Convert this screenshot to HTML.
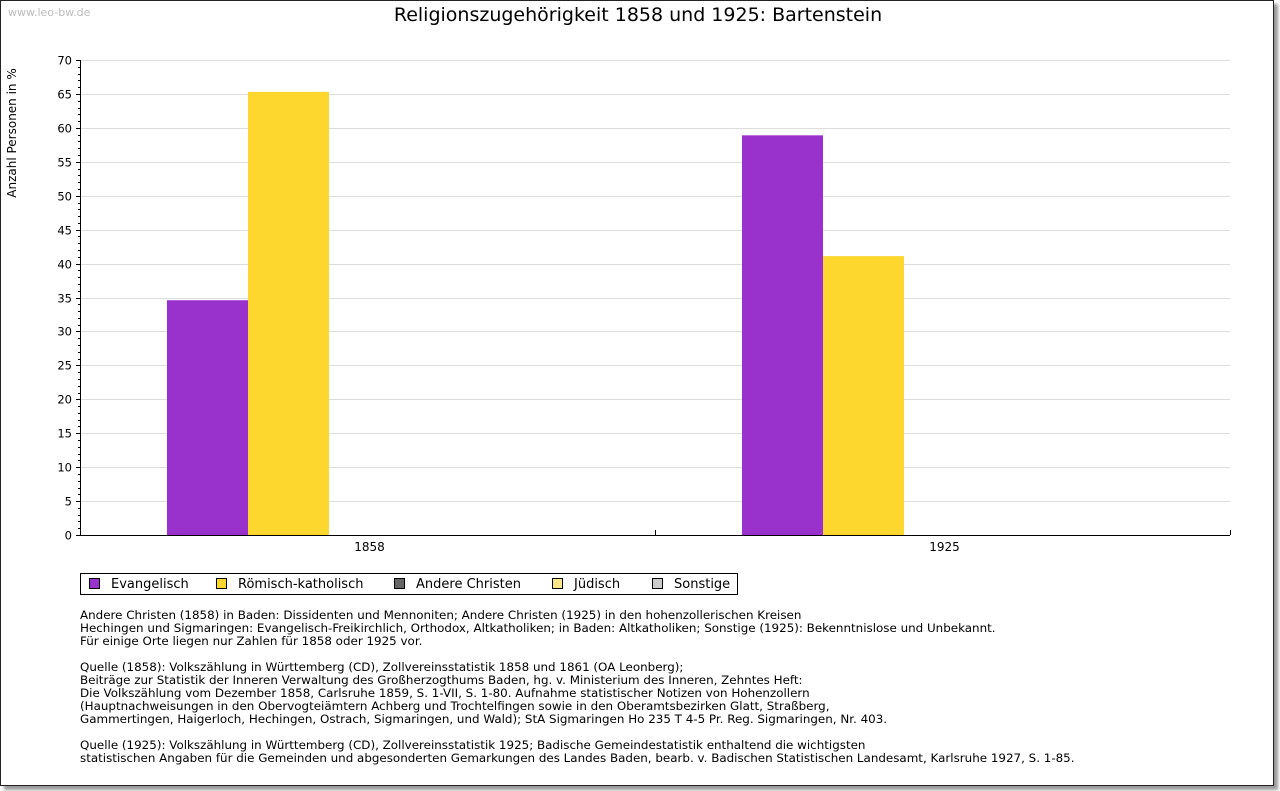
<!DOCTYPE html>
<html><head><meta charset="utf-8"><style>
body{margin:0;background:#fff;width:1280px;height:791px;overflow:hidden;font-family:"DejaVu Sans","Liberation Sans",sans-serif;}
#frame{position:absolute;left:0;top:0;width:1272px;height:784px;border:1px solid #222;box-shadow:4px 4px 3px #999;background:#fff;}
.notes{position:absolute;left:80px;font-size:11.9px;line-height:13px;color:#000;white-space:pre;}
</style></head><body>
<div id="frame"></div>
<svg id="chart" width="1280" height="791" style="position:absolute;left:0;top:0">
<text x="8" y="16" font-size="11" fill="#bbb">www.leo-bw.de</text>
<text x="638" y="21" font-size="19" text-anchor="middle" fill="#000">Religionszugehörigkeit 1858 und 1925: Bartenstein</text>
<text transform="translate(16,133) rotate(-90)" font-size="12" text-anchor="middle">Anzahl Personen in %</text>
<g id="grid"></g><g id="bars"></g><g id="axes"></g>
<g>
<rect x="80.5" y="573.5" width="657" height="21" fill="#fff" stroke="#000"/>
</g><g id="legend"></g>
</svg>
<div class="notes" style="top:609px">Andere Christen (1858) in Baden: Dissidenten und Mennoniten; Andere Christen (1925) in den hohenzollerischen Kreisen
Hechingen und Sigmaringen: Evangelisch-Freikirchlich, Orthodox, Altkatholiken; in Baden: Altkatholiken; Sonstige (1925): Bekenntnislose und Unbekannt.
Für einige Orte liegen nur Zahlen für 1858 oder 1925 vor.</div>
<div class="notes" style="top:661px">Quelle (1858): Volkszählung in Württemberg (CD), Zollvereinsstatistik 1858 und 1861 (OA Leonberg);
Beiträge zur Statistik der Inneren Verwaltung des Großherzogthums Baden, hg. v. Ministerium des Inneren, Zehntes Heft:
Die Volkszählung vom Dezember 1858, Carlsruhe 1859, S. 1-VII, S. 1-80. Aufnahme statistischer Notizen von Hohenzollern
(Hauptnachweisungen in den Obervogteiämtern Achberg und Trochtelfingen sowie in den Oberamtsbezirken Glatt, Straßberg,
Gammertingen, Haigerloch, Hechingen, Ostrach, Sigmaringen, und Wald); StA Sigmaringen Ho 235 T 4-5 Pr. Reg. Sigmaringen, Nr. 403.</div>
<div class="notes" style="top:739px">Quelle (1925): Volkszählung in Württemberg (CD), Zollvereinsstatistik 1925; Badische Gemeindestatistik enthaltend die wichtigsten
statistischen Angaben für die Gemeinden und abgesonderten Gemarkungen des Landes Baden, bearb. v. Badischen Statistischen Landesamt, Karlsruhe 1927, S. 1-85.</div>
<script>
const categories=["1858","1925"];
const seriesNames=["Evangelisch","Römisch-katholisch","Andere Christen","Jüdisch","Sonstige"];
const seriesColors=["#9932cc","#fdd72e","#666666","#fde68a","#cccccc"];
const evangelisch=[34.6,58.9];
const katholisch=[65.3,41.1];
const andere=[0,0];
const juedisch=[0,0];
const sonstige=[0,0];
const yTicks=[0,5,10,15,20,25,30,35,40,45,50,55,60,65,70];
const allSeries=[evangelisch,katholisch,andere,juedisch,sonstige];
const NS="http://www.w3.org/2000/svg";
const L=80,R=1230,T=60,B=535,yMax=70;
const y=v=>B-(v/yMax)*(B-T);
const catW=(R-L)/categories.length;
const barW=81;
function mk(tag,attrs,parent){const e=document.createElementNS(NS,tag);for(const k in attrs)e.setAttribute(k,attrs[k]);parent.appendChild(e);return e;}
const grid=document.getElementById('grid'),bars=document.getElementById('bars'),axes=document.getElementById('axes'),leg=document.getElementById('legend');
yTicks.forEach(v=>{
  const yy=Math.round(y(v))+0.5;
  if(v>0){const g=mk('line',{x1:L,x2:R,y1:yy,y2:yy,stroke:'#ddd'},grid);
  
  }
  const t=mk('text',{x:L-8,y:yy+4,'font-size':11.5,'text-anchor':'end'},axes);t.textContent=v;
  
  
  mk('line',{x1:L-4,x2:L,y1:yy,y2:yy,stroke:'#000'},axes);
});
for(let v=0;v<=yMax;v++){const yy=Math.round(y(v))+0.5;mk('line',{x1:L-2,x2:L,y1:yy,y2:yy,stroke:'#000'},axes);}
mk('line',{x1:L+0.5,x2:L+0.5,y1:T,y2:B,stroke:'#000'},axes);
mk('line',{x1:L,x2:R,y1:B+0.5,y2:B+0.5,stroke:'#000'},axes);
for(let i=1;i<=categories.length;i++){const xx=Math.round(L+catW*i)+0.5;mk('line',{x1:xx,x2:xx,y1:B-5,y2:B,stroke:'#000'},axes);}
categories.forEach((c,i)=>{
  const cx=L+catW*(i+0.5);
  const t=mk('text',{x:cx+2,y:B+16,'font-size':12,'text-anchor':'middle'},axes);t.textContent=c;
  
  
  const start=cx-barW*allSeries.length/2+2;
  allSeries.forEach((s,j)=>{
    if(s[i]<=0)return;
    const r=mk('rect',{x:start+j*barW,y:y(s[i]),width:barW,height:B-y(s[i]),fill:seriesColors[j]},bars);
    
    
  });
});
const legX=[89,216,394,552,652];
seriesNames.forEach((n,j)=>{
  const r=mk('rect',{x:legX[j]+0.5,y:578.5,width:10,height:10,fill:seriesColors[j],stroke:'#000'},leg);
  
  
  const t=mk('text',{x:legX[j]+22,y:588,'font-size':13},leg);t.textContent=n;
  
  
});
</script>
</body></html>
